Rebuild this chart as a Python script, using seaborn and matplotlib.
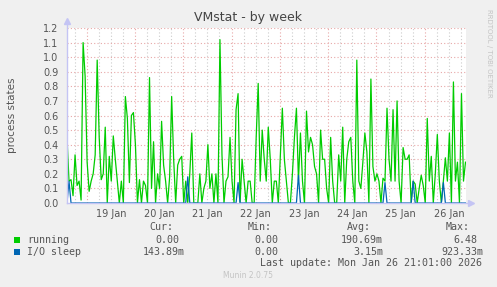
import matplotlib
matplotlib.use("Agg")
import matplotlib.pyplot as plt
import matplotlib.patches as mpatches
import numpy as np
import pandas as pd
import seaborn as sns

# ---------------- data ----------------
start_time = "2026-01-18 14:15"
running = [
    0.45, 0.15, 0.16, 0.05, 0.33, 0.12, 0.15, 0.02, 1.10, 0.87,
    0.28, 0.08, 0.15, 0.20, 0.33, 0.98, 0.45, 0.16, 0.20, 0.52,
    0.00, 0.32, 0.15, 0.46, 0.30, 0.15, 0.00, 0.15, 0.00, 0.73,
    0.58, 0.14, 0.60, 0.62, 0.40, 0.00, 0.16, 0.00, 0.15, 0.12,
    0.00, 0.86, 0.10, 0.42, 0.00, 0.20, 0.10, 0.56, 0.26, 0.15,
    0.00, 0.18, 0.73, 0.30, 0.00, 0.26, 0.30, 0.32, 0.00, 0.15,
    0.00, 0.20, 0.48, 0.00, 0.00, 0.00, 0.20, 0.00, 0.10, 0.15,
    0.40, 0.10, 0.20, 0.00, 0.20, 0.00, 1.12, 0.33, 0.00, 0.15,
    0.18, 0.45, 0.15, 0.00, 0.64, 0.75, 0.00, 0.30, 0.15, 0.00,
    0.15, 0.15, 0.00, 0.00, 0.45, 0.82, 0.15, 0.50, 0.30, 0.15,
    0.52, 0.30, 0.00, 0.15, 0.15, 0.00, 0.33, 0.65, 0.30, 0.15,
    0.00, 0.00, 0.20, 0.45, 0.65, 0.15, 0.48, 0.15, 0.00, 0.63,
    0.35, 0.45, 0.40, 0.25, 0.20, 0.00, 0.50, 0.30, 0.30, 0.10,
    0.00, 0.45, 0.15, 0.00, 0.00, 0.33, 0.15, 0.52, 0.00, 0.30,
    0.42, 0.45, 0.15, 0.00, 0.98, 0.15, 0.10, 0.28, 0.48, 0.35,
    0.00, 0.85, 0.25, 0.15, 0.20, 0.15, 0.00, 0.17, 0.15, 0.65,
    0.30, 0.15, 0.64, 0.15, 0.70, 0.15, 0.00, 0.38, 0.30, 0.30,
    0.33, 0.00, 0.15, 0.13, 0.00, 0.10, 0.19, 0.12, 0.00, 0.58,
    0.15, 0.32, 0.00, 0.20, 0.47, 0.15, 0.00, 0.15, 0.31, 0.15,
    0.48, 0.00, 0.83, 0.15, 0.28, 0.00, 0.75, 0.15, 0.28,
]
io_sleep = [
    0.00, 0.15, 0.00, 0.00, 0.00, 0.00, 0.00, 0.00, 0.00, 0.00,
    0.00, 0.00, 0.00, 0.00, 0.00, 0.00, 0.00, 0.00, 0.00, 0.00,
    0.00, 0.00, 0.00, 0.00, 0.00, 0.00, 0.00, 0.00, 0.00, 0.00,
    0.00, 0.00, 0.00, 0.00, 0.00, 0.00, 0.00, 0.00, 0.00, 0.00,
    0.00, 0.00, 0.00, 0.00, 0.00, 0.00, 0.00, 0.00, 0.00, 0.00,
    0.00, 0.00, 0.00, 0.00, 0.00, 0.00, 0.00, 0.00, 0.00, 0.00,
    0.18, 0.00, 0.00, 0.00, 0.00, 0.00, 0.00, 0.00, 0.00, 0.00,
    0.00, 0.00, 0.00, 0.00, 0.00, 0.00, 0.00, 0.00, 0.00, 0.00,
    0.00, 0.00, 0.00, 0.00, 0.00, 0.14, 0.00, 0.00, 0.00, 0.00,
    0.00, 0.00, 0.00, 0.00, 0.00, 0.00, 0.00, 0.00, 0.00, 0.00,
    0.00, 0.00, 0.00, 0.00, 0.00, 0.00, 0.00, 0.00, 0.00, 0.00,
    0.00, 0.00, 0.00, 0.00, 0.00, 0.19, 0.00, 0.00, 0.00, 0.00,
    0.00, 0.00, 0.00, 0.00, 0.00, 0.00, 0.00, 0.00, 0.00, 0.00,
    0.00, 0.00, 0.00, 0.00, 0.00, 0.00, 0.00, 0.00, 0.00, 0.00,
    0.00, 0.00, 0.00, 0.00, 0.00, 0.00, 0.00, 0.00, 0.00, 0.00,
    0.00, 0.00, 0.00, 0.00, 0.00, 0.00, 0.00, 0.00, 0.14, 0.00,
    0.00, 0.00, 0.00, 0.00, 0.00, 0.00, 0.00, 0.00, 0.00, 0.00,
    0.00, 0.00, 0.15, 0.00, 0.00, 0.00, 0.00, 0.00, 0.00, 0.00,
    0.00, 0.00, 0.00, 0.00, 0.00, 0.00, 0.00, 0.14, 0.00, 0.00,
    0.00, 0.00, 0.00, 0.00, 0.00, 0.00, 0.00, 0.00, 0.00,
]
y_ticks = [0.0, 0.1, 0.2, 0.3, 0.4, 0.5, 0.6, 0.7, 0.8, 0.9, 1.0, 1.1, 1.2]
y_tick_labels = ["0.0", "0.1", "0.2", "0.3", "0.4", "0.5", "0.6",
                 "0.7", "0.8", "0.9", "1.0", "1.1", "1.2"]
x_tick_dates = ["2026-01-19 12:00", "2026-01-20 12:00", "2026-01-21 12:00",
                "2026-01-22 12:00", "2026-01-23 12:00", "2026-01-24 12:00",
                "2026-01-25 12:00", "2026-01-26 12:00"]
x_tick_labels = ["19 Jan", "20 Jan", "21 Jan", "22 Jan",
                 "23 Jan", "24 Jan", "25 Jan", "26 Jan"]
series_names = ["running", "I/O sleep"]
series_colors = ["#00cc00", "#0066b3"]
stat_cur = ["0.00", "143.89m"]
stat_min = ["0.00", "0.00"]
stat_avg = ["190.69m", "3.15m"]
stat_max = ["6.48", "923.33m"]

# ---------------- figure ----------------
W, H = 497, 287
def fx(x): return x / W
def fy(y): return 1 - y / H

fig = plt.figure(figsize=(W / 100, H / 100), dpi=100)
fig.patch.set_facecolor("#f0f0f0")
ax = fig.add_axes([fx(67), fy(203), 399 / W, 175 / H])
ax.set_facecolor("white")

times = pd.date_range(start_time, periods=len(running), freq="h")
df = pd.DataFrame({"time": times, "running": running, "io": io_sleep})

x0 = pd.Timestamp("2026-01-18 14:15")
x1 = pd.Timestamp("2026-01-26 20:30")

# grid lines
grid_pink = "#e8a8a8"
grid_gray = "#cccccc"
for t in pd.date_range("2026-01-18 18:00", "2026-01-26 18:00", freq="6h"):
    col = grid_pink if t.hour == 0 else grid_gray
    ax.axvline(t, color=col, linestyle=(0, (1, 2)), linewidth=0.8, zorder=0.5)
for yv in y_ticks[1:]:
    ax.axhline(yv, color=grid_pink, linestyle=(0, (1, 2)), linewidth=0.8, zorder=0.5)

sns.lineplot(data=df, x="time", y="running", ax=ax, color=series_colors[0],
             linewidth=0.9, estimator=None, legend=False, zorder=2)
sns.lineplot(data=df, x="time", y="io", ax=ax, color=series_colors[1],
             linewidth=0.9, estimator=None, legend=False, zorder=3)

ax.set_xlim(x0, x1)
ax.set_ylim(0, 1.2)
ax.set_xlabel("")
ax.set_ylabel("")

ax.set_yticks(y_ticks)
ax.set_yticklabels(y_tick_labels)
ax.set_xticks(pd.to_datetime(x_tick_dates))
ax.set_xticklabels(x_tick_labels)
ax.tick_params(axis="both", length=0, labelsize=7, labelcolor="#555555")
ax.tick_params(axis="y", pad=6)
ax.tick_params(axis="x", pad=4)

for s in ax.spines.values():
    s.set_visible(False)

axis_col = "#c4c4f4"
ax.plot([0, 0], [0, 1 + 7 / 175], transform=ax.transAxes, color=axis_col,
        linewidth=1.0, clip_on=False, zorder=4)
ax.plot([0, 1 + 5 / 399], [0, 0], transform=ax.transAxes, color=axis_col,
        linewidth=1.0, clip_on=False, zorder=4)
ax.plot([0], [1 + 7 / 175], transform=ax.transAxes, marker="^", markersize=4,
        color=axis_col, clip_on=False, zorder=4)
ax.plot([1 + 5 / 399], [0], transform=ax.transAxes, marker=">", markersize=4,
        color=axis_col, clip_on=False, zorder=4)

# texts
fig.text(0.5, fy(17), "VMstat - by week", ha="center", va="center",
         fontsize=9, color="#444444")
fig.text(fx(12), fy(115), "process states", rotation=90, ha="center",
         va="center", fontsize=7.5, color="#555555")
fig.text(fx(489), fy(53), "RRDTOOL / TOBI OETIKER", rotation=270,
         ha="center", va="center", fontsize=5, color="#c4c4c4")

mono = dict(family="DejaVu Sans Mono", fontsize=7.2, color="#555555", va="center")
fig.text(fx(173), fy(227), "Cur:", ha="right", **mono)
fig.text(fx(272), fy(227), "Min:", ha="right", **mono)
fig.text(fx(371), fy(227), "Avg:", ha="right", **mono)
fig.text(fx(470), fy(227), "Max:", ha="right", **mono)

rows_y = [240, 252]
cur_right = [179, 185]
min_right = [278, 278]
avg_right = [383, 383]
max_right = [477, 483]
for k in range(2):
    yy = rows_y[k]
    fig.patches.append(mpatches.Rectangle((fx(14), fy(yy + 3)), 6 / W, 6 / H,
                                          transform=fig.transFigure,
                                          facecolor=series_colors[k],
                                          edgecolor="none"))
    fig.text(fx(27), fy(yy), series_names[k], ha="left", **mono)
    fig.text(fx(cur_right[k]), fy(yy), stat_cur[k], ha="right", **mono)
    fig.text(fx(min_right[k]), fy(yy), stat_min[k], ha="right", **mono)
    fig.text(fx(avg_right[k]), fy(yy), stat_avg[k], ha="right", **mono)
    fig.text(fx(max_right[k]), fy(yy), stat_max[k], ha="right", **mono)

fig.text(fx(482), fy(263), "Last update: Mon Jan 26 21:01:00 2026",
         ha="right", **mono)
fig.text(fx(248), fy(276), "Munin 2.0.75", ha="center", va="center",
         fontsize=5.5, color="#c4c4c4")

fig.savefig("out.png", dpi=100, facecolor=fig.get_facecolor())
